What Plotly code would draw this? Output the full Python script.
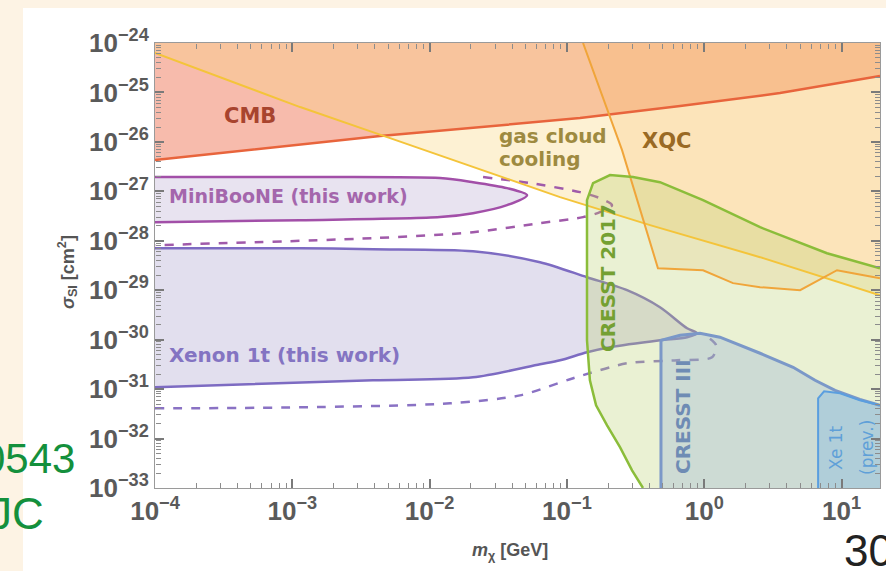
import plotly.graph_objects as go

# ---------------- axis limits and ticks ----------------
M_MIN, M_MAX = 1e-4, 19.05          # GeV
SIG_MIN, SIG_MAX = 1e-33, 1e-24     # cm^2

mass_decades = [-4, -3, -2, -1, 0, 1]
sigma_decades = [-33, -32, -31, -30, -29, -28, -27, -26, -25, -24]

# ---------------- exclusion boundaries (m in GeV, sigma in cm^2) ----------------
cmb_m = [1e-4, 4.36e-3, 0.1245, 0.667, 3.56, 19.05]
cmb_sigma = [4.3e-27, 1.31e-26, 3.03e-26, 5.31e-26, 9.7e-26, 2.15e-25]

gas_m = [1e-4, 1.14e-3, 5.15e-3, 0.0891, 0.403, 2.55, 19.05]
gas_sigma = [6.28e-25, 5.06e-26, 1.19e-26, 7.64e-28, 2.07e-28, 4.66e-29, 7.9e-30]

xqc_m = [0.131, 0.252, 0.460, 0.98, 1.62, 2.55, 4.99, 6.19, 9.27, 12.1, 19.05]
xqc_sigma = [1e-24, 6.82e-27, 2.79e-29, 2.54e-29, 1.39e-29, 1.15e-29, 1.0e-29,
             1.39e-29, 2.54e-29, 2.21e-29, 1.75e-29]

miniboone_m = [1e-4, 1.14e-3, 0.0119, 0.0207, 0.0366, 0.0512,
               0.0366, 0.0207, 0.0119, 1.14e-3, 1e-4]
miniboone_sigma = [1.94e-27, 1.94e-27, 1.85e-27, 1.53e-27, 1.16e-27, 8.38e-28,
                   5.26e-28, 3.62e-28, 3.01e-28, 2.61e-28, 2.38e-28]

miniboone_proj_m = [0.0245, 0.0538, 0.1245, 0.174, 0.213, 0.174, 0.131,
                    0.0637, 0.0207, 3.87e-3, 1e-4]
miniboone_proj_sigma = [1.94e-27, 1.47e-27, 9.63e-28, 7.28e-28, 5.26e-28, 3.79e-28,
                        3.01e-28, 2.27e-28, 1.49e-28, 1.13e-28, 8.15e-29]

xenon_m = [1e-4, 1.14e-3, 3.87e-3, 0.0207, 0.0637, 0.140, 0.274, 0.476, 0.750, 0.887,
           0.750, 0.476, 0.206, 0.140, 0.0891, 0.0637, 0.0207, 3.87e-3, 1e-4]
xenon_sigma = [7.08e-29, 7.08e-29, 6.76e-29, 6.15e-29, 3.69e-29, 1.83e-29, 1.0e-29,
               4.53e-30, 1.70e-30, 1.35e-30, 1.12e-30, 9.72e-31, 7.02e-31, 5.56e-31,
               3.83e-31, 3.18e-31, 1.73e-31, 1.51e-31, 1.09e-31]

xenon_proj_m = [1e-4, 1.14e-3, 0.0141, 0.0455, 0.111, 0.274, 0.634, 1.14, 1.22, 1.01]
xenon_proj_sigma = [4.08e-32, 4.28e-32, 5.16e-32, 7.48e-32, 1.66e-31, 3.33e-31,
                    3.83e-31, 4.41e-31, 7.7e-31, 1.23e-30]

cresst17_m = [0.358, 0.298, 0.244, 0.196, 0.163, 0.147, 0.140, 0.140, 0.155, 0.206,
              0.303, 0.476, 0.98, 2.55, 7.83, 19.05]
cresst17_sigma = [1e-33, 2.27e-33, 6.64e-33, 1.85e-32, 4.70e-32, 1.51e-31, 9.72e-31,
                  6.64e-28, 1.47e-27, 2.13e-27, 1.94e-27, 1.53e-27, 6.64e-28,
                  1.88e-28, 5.61e-29, 2.79e-29]

cresst3_m = [0.484, 0.484, 0.667, 0.931, 1.30, 2.55, 4.44, 6.41, 8.97, 13.6, 19.05]
cresst3_sigma = [1e-33, 9.72e-31, 1.23e-30, 1.35e-30, 1.12e-30, 5.31e-31, 2.76e-31,
                 1.51e-31, 9.45e-32, 6.21e-32, 4.70e-32]

xe1t_m = [6.75, 6.75, 7.46, 9.75, 13.6, 19.05]
xe1t_sigma = [1e-33, 6.52e-32, 9.02e-32, 8.22e-32, 5.93e-32, 4.70e-32]

# ---------------- figure geometry (pixels) ----------------
W, H = 886, 571
L, R, T, B = 155, 6, 43, 83
PW, PH = W - L - R, H - T - B
X_RANGE, Y_RANGE = [-4, 1.28], [-33, -24]


def px(x):
    return (x - L) / PW


def py(y):
    return (H - B - y) / PH


fig = go.Figure()


def fill(xs, ys, color, shape="linear"):
    fig.add_trace(go.Scatter(x=xs, y=ys, mode="lines", fill="toself", fillcolor=color,
                             line=dict(width=0, shape=shape, smoothing=0.8),
                             hoverinfo="skip"))


def line(xs, ys, color, width=2.5, dash="solid", shape="linear"):
    fig.add_trace(go.Scatter(x=xs, y=ys, mode="lines",
                             line=dict(color=color, width=width, dash=dash,
                                       shape=shape, smoothing=0.8),
                             hoverinfo="skip"))


# cosmological / astrophysical bounds
fill(cmb_m + [M_MAX, M_MIN], cmb_sigma + [SIG_MAX, SIG_MAX], "rgba(240,120,90,0.5)")
fill(gas_m + [M_MAX, M_MIN], gas_sigma + [SIG_MAX, SIG_MAX], "rgba(250,215,130,0.35)")
fill(xqc_m + [M_MAX], xqc_sigma + [SIG_MAX], "rgba(250,180,90,0.2)")

# this work
fill(miniboone_m, miniboone_sigma, "rgba(170,150,200,0.27)", "spline")
fill(xenon_m, xenon_sigma, "rgba(160,150,200,0.3)", "spline")
line(miniboone_m, miniboone_sigma, "#a24fa8", shape="spline")
line(miniboone_proj_m, miniboone_proj_sigma, "#a05aaa", dash="dash", shape="spline")
line(xenon_m, xenon_sigma, "#7d6bc2", shape="spline")
line(xenon_proj_m, xenon_proj_sigma, "#8a72c4", dash="dash", shape="spline")

# direct detection
fill(cresst17_m + [M_MAX], cresst17_sigma + [SIG_MIN], "rgba(185,210,110,0.3)")
fill(cresst3_m + [M_MAX], cresst3_sigma + [SIG_MIN], "rgba(140,170,215,0.3)")
fill(xe1t_m + [M_MAX], xe1t_sigma + [SIG_MIN], "rgba(110,175,230,0.3)")

line(cmb_m, cmb_sigma, "#e8643c", 2.5)
line(gas_m, gas_sigma, "#f4c43a", 2)
line(xqc_m, xqc_sigma, "#f0a53a", 2)
line(cresst17_m, cresst17_sigma, "#8bbd3a", 2.5)
line(cresst3_m, cresst3_sigma, "#7b98c8", 3)
line(xe1t_m, xe1t_sigma, "#5a9edf", 2)


def decade_ticks(decades):
    vals = [10.0 ** d for d in decades]
    text = ["10<sup>%s</sup>" % (str(d).replace("-", "\u2212")) for d in decades]
    minor = [k * 10.0 ** d for d in decades for k in range(2, 10)]
    return vals, text, minor


mass_major, mass_text, mass_minor = decade_ticks(mass_decades)
sigma_major, sigma_text, sigma_minor = decade_ticks(sigma_decades)

tickfont = dict(family="Liberation Sans", size=26, color="#5a5a5a", weight="bold")


def main_axis(vals, text, rng):
    return dict(type="log", range=rng, tickmode="array", tickvals=vals, ticktext=text,
                ticks="inside", ticklen=9, tickcolor="#7a7a7a", tickwidth=1.5,
                mirror="allticks", showline=True, linecolor="#9a9a9a",
                linewidth=1, showgrid=False, zeroline=False, tickfont=tickfont)


def frame_ticks(vals, rng, over, position, side, length, color):
    # free-floating overlay axis whose outward ticks point into the frame
    return dict(type="log", range=rng, overlaying=over, anchor="free",
                position=position, side=side, tickmode="array", tickvals=vals,
                ticks="outside", ticklen=length, tickcolor=color, tickwidth=1.2,
                showticklabels=False, showline=False, showgrid=False, zeroline=False)


MIN_COLOR, MIN_LEN = "#8c8c8c", 5

layout_axes = dict(
    xaxis=main_axis(mass_major, mass_text, X_RANGE),
    yaxis=main_axis(sigma_major, sigma_text, Y_RANGE),
    # minor ticks on the bottom / top of the frame
    xaxis2=frame_ticks(mass_minor, X_RANGE, "x", 0, "top", MIN_LEN, MIN_COLOR),
    xaxis3=frame_ticks(mass_minor, X_RANGE, "x", 1, "bottom", MIN_LEN, MIN_COLOR),
    # minor ticks on the left / right of the frame
    yaxis2=frame_ticks(sigma_minor, Y_RANGE, "y", 0, "right", MIN_LEN, MIN_COLOR),
    yaxis3=frame_ticks(sigma_minor, Y_RANGE, "y", 1, "left", MIN_LEN, MIN_COLOR),
)

# empty traces that register the tick overlay axes
for k in (2, 3):
    fig.add_trace(go.Scatter(x=[], y=[], xaxis="x%d" % k, yaxis="y%d" % k,
                             hoverinfo="skip"))

fig.update_layout(
    width=W, height=H,
    margin=dict(l=L, r=R, t=T, b=B),
    paper_bgcolor="white",
    plot_bgcolor="white",
    showlegend=False,
    **layout_axes,
)

# cream slide border strips (top and left), kept clear of the plot frame
for x0, x1, y0, y1 in [(-10, W + 10, -10, 8), (-10, 23, -10, H + 10)]:
    fig.add_shape(type="rect", xref="paper", yref="paper", layer="below",
                  x0=px(x0), x1=px(x1), y0=py(y1), y1=py(y0),
                  fillcolor="#fdf3e4", line=dict(width=0))


def label(text, x, y, color, size=19, angle=0, xanchor="center", weight="bold",
          family="DejaVu Sans"):
    fig.add_annotation(text=text, x=px(x), y=py(y), xref="paper", yref="paper",
                       showarrow=False, textangle=angle, xanchor=xanchor,
                       yanchor="middle",
                       font=dict(family=family, size=size, color=color, weight=weight))


label("CMB", 250, 116, "#a8442e", 21)
label("gas cloud", 497, 136, "#9e8a40", 20, xanchor="left")
label("cooling", 497, 159, "#9e8a40", 20, xanchor="left")
label("XQC", 666, 141, "#9a6a24", 21)
label("MiniBooNE (this work)", 167, 196, "#a466ac", 19, xanchor="left")
label("Xenon 1t (this work)", 167, 355, "#8474c2", 20, xanchor="left")
label("CRESST 2017", 608, 278, "#74a032", 20, angle=-90)
label("CRESST III", 683, 417, "#6f8cb4", 20, angle=-90)
label("Xe 1t", 836, 448, "#5fa0d8", 17, angle=-90, weight="normal")
label("(prev.)", 867, 448, "#5fa0d8", 17, angle=-90, weight="normal")

# axis titles
label("<i>σ</i><sub>SI</sub> [cm<sup>2</sup>]", 67, 272, "#555555", 18, angle=-90,
      family="Liberation Sans")
label("<i>m</i><sub>χ</sub> [GeV]", 510, 551, "#555555", 18, family="Liberation Sans")

# slide text
label("0543", 77, 458, "#14903c", 42, xanchor="right", weight="normal",
      family="Liberation Sans")
label("JC", 46, 513, "#14903c", 44, xanchor="right", weight="normal",
      family="Liberation Sans")
label("30", 842, 550, "#222222", 44, xanchor="left", weight="normal",
      family="Liberation Sans")

fig.write_html("out.html")
